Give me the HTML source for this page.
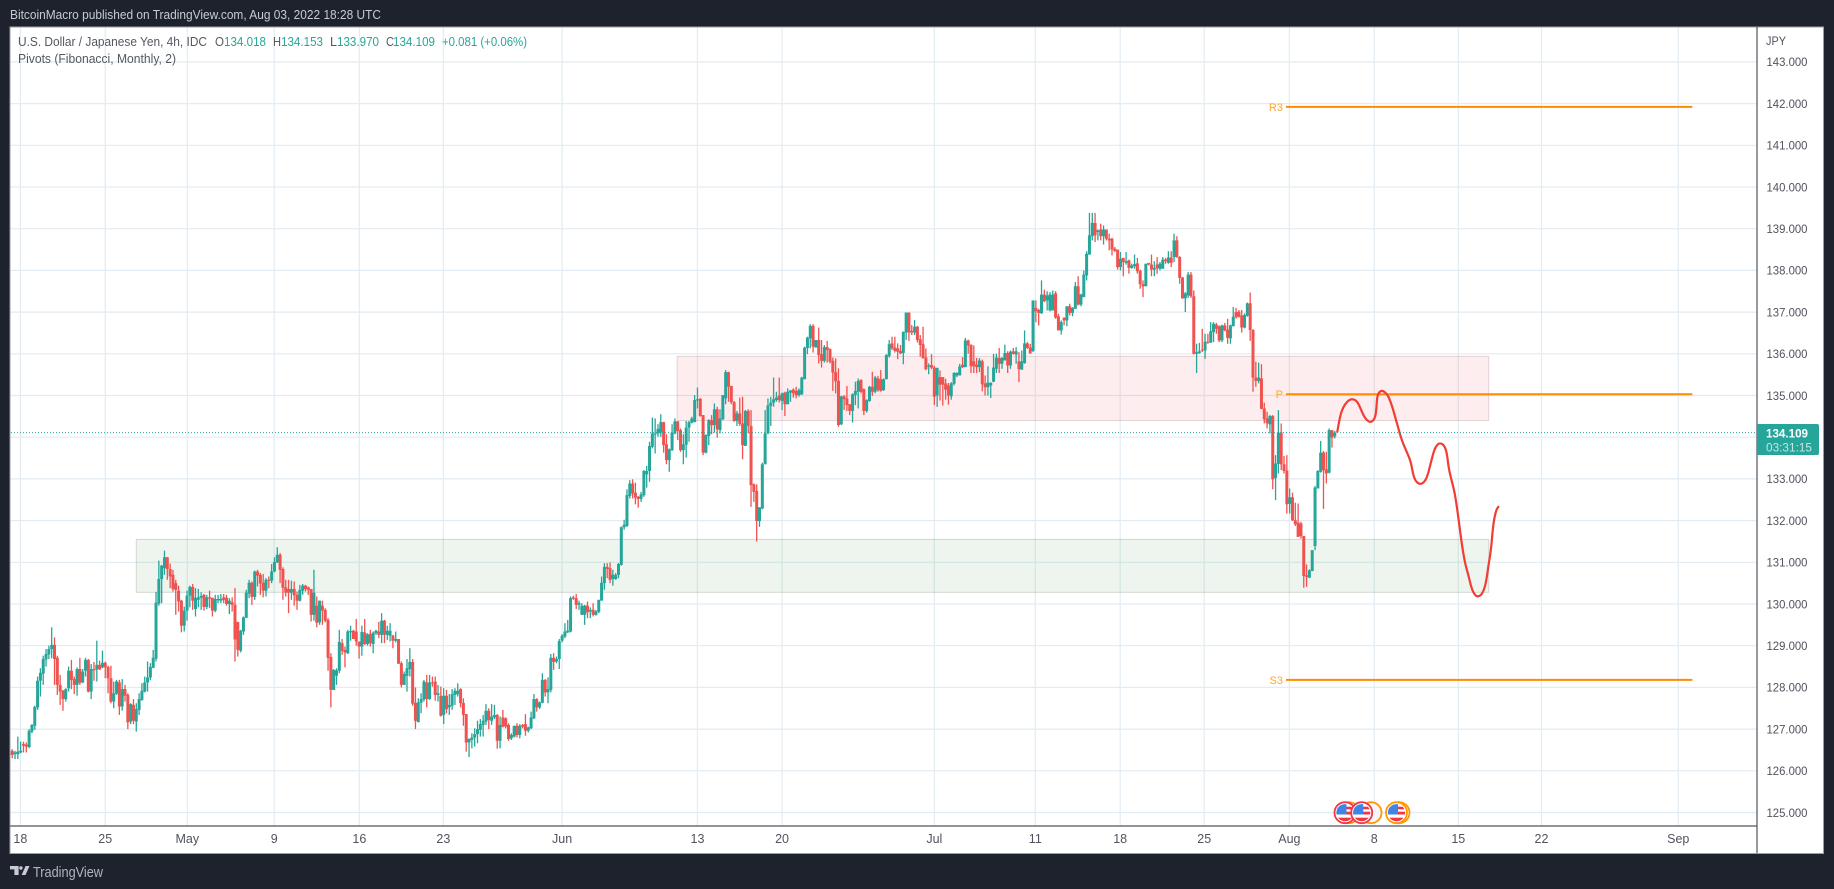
<!DOCTYPE html>
<html>
<head>
<meta charset="utf-8">
<title>USD/JPY chart</title>
<style>
html,body{margin:0;padding:0;background:#1e222d;width:1834px;height:889px;overflow:hidden}
svg{display:block;font-family:"Liberation Sans",sans-serif}
</style>
</head>
<body>
<svg id="chart" width="1834" height="889" viewBox="0 0 1834 889" xmlns="http://www.w3.org/2000/svg">
  <rect x="0" y="0" width="1834" height="889" fill="#1e222d"/>
  <text x="10" y="19" font-size="13" fill="#c8cbd3" textLength="371" lengthAdjust="spacingAndGlyphs">BitcoinMacro published on TradingView.com, Aug 03, 2022 18:28 UTC</text>
  <rect x="10" y="27" width="1813.5" height="826.5" fill="#ffffff" stroke="#9a9da6" stroke-width="1"/>
  <g id="grid"></g>
  <g id="zones"></g>
  <g id="candles"></g>
  <g id="pivots"></g>
  <g id="overlay"></g>
  <line x1="1757" y1="27" x2="1757" y2="853" stroke="#50535e" stroke-width="1.2"/>
  <line x1="10" y1="826" x2="1757" y2="826" stroke="#50535e" stroke-width="1.2"/>
  <g id="price-axis"></g>
  <g id="time-axis"></g>
  <text x="1766" y="45" font-size="12" fill="#50535e" textLength="20" lengthAdjust="spacingAndGlyphs">JPY</text>

  <g font-size="13">
    <text x="18" y="46" fill="#555862" textLength="189" lengthAdjust="spacingAndGlyphs">U.S. Dollar / Japanese Yen, 4h, IDC</text>
    <text x="215" y="46" fill="#555862" textLength="9" lengthAdjust="spacingAndGlyphs">O</text>
    <text x="224" y="46" fill="#26a69a" textLength="42" lengthAdjust="spacingAndGlyphs">134.018</text>
    <text x="273" y="46" fill="#555862" textLength="8" lengthAdjust="spacingAndGlyphs">H</text>
    <text x="281" y="46" fill="#26a69a" textLength="42" lengthAdjust="spacingAndGlyphs">134.153</text>
    <text x="330" y="46" fill="#555862" textLength="7" lengthAdjust="spacingAndGlyphs">L</text>
    <text x="337" y="46" fill="#26a69a" textLength="42" lengthAdjust="spacingAndGlyphs">133.970</text>
    <text x="386" y="46" fill="#555862" textLength="8" lengthAdjust="spacingAndGlyphs">C</text>
    <text x="393" y="46" fill="#26a69a" textLength="42" lengthAdjust="spacingAndGlyphs">134.109</text>
    <text x="442" y="46" fill="#26a69a" textLength="85" lengthAdjust="spacingAndGlyphs">+0.081 (+0.06%)</text>
    <text x="18" y="63" fill="#555862" textLength="158" lengthAdjust="spacingAndGlyphs">Pivots (Fibonacci, Monthly, 2)</text>
  </g>

  <g>
    <defs>
      <clipPath id="flag-clip"><circle cx="0" cy="0" r="8.6"/></clipPath>
    </defs>
    <g transform="translate(1349 812.7)"><circle r="10.5" fill="#fff" stroke="#ff9800" stroke-width="1.8"/></g>
    <g transform="translate(1345 812.7)">
      <circle r="10.5" fill="#fff" stroke="#f23645" stroke-width="1.8"/>
      <g clip-path="url(#flag-clip)"><rect x="-9" y="-6" width="18" height="2.6" fill="#f23645"/><rect x="-9" y="-1" width="18" height="2.8" fill="#f23645"/><rect x="-9" y="5" width="18" height="4" fill="#f23645"/><rect x="-9" y="-9" width="10.5" height="10.8" fill="#3d85e6"/></g>
    </g>
    <g transform="translate(1371 812.7)"><circle r="10.5" fill="#f5f6fa" stroke="#ff9800" stroke-width="1.8"/></g>
    <g transform="translate(1361.7 812.7)">
      <circle r="10.5" fill="#fff" stroke="#f23645" stroke-width="1.8"/>
      <g clip-path="url(#flag-clip)"><rect x="-9" y="-6" width="18" height="2.6" fill="#f23645"/><rect x="-9" y="-1" width="18" height="2.8" fill="#f23645"/><rect x="-9" y="5" width="18" height="4" fill="#f23645"/><rect x="-9" y="-9" width="10.5" height="10.8" fill="#3d85e6"/></g>
    </g>
    <g transform="translate(1399 812.7)"><circle r="10.5" fill="#fff" stroke="#ff9800" stroke-width="1.8"/></g>
    <g transform="translate(1396.5 812.7)">
      <circle r="10.5" fill="#fff" stroke="#ff9800" stroke-width="1.8"/>
      <g clip-path="url(#flag-clip)"><rect x="-9" y="-6" width="18" height="2.6" fill="#f23645"/><rect x="-9" y="-1" width="18" height="2.8" fill="#f23645"/><rect x="-9" y="5" width="18" height="4" fill="#f23645"/><rect x="-9" y="-9" width="10.5" height="10.8" fill="#3d85e6"/></g>
    </g>
  </g>

  <g fill="#c8cbd3">
    <path d="M10 866h8.6v9h-4.2v-5.6H10zM22.6 868a1.7 1.7 0 1 1-3.4 0 1.7 1.7 0 0 1 3.4 0zM25.6 866h3.9l-4 9h-3.9z"/>
    <text x="33" y="877" font-size="14.5" fill="#b2b5be" textLength="70" lengthAdjust="spacingAndGlyphs">TradingView</text>
  </g>
</svg>
<script>
const opens=[
126.48,126.40,126.40,126.44,126.64,126.63,126.57,126.94,127.08,127.52,
128.16,128.33,128.67,128.79,128.92,129.02,128.71,128.06,127.92,127.72,
127.98,128.40,128.20,128.06,128.44,128.12,128.40,128.66,127.90,128.44,
128.43,128.54,128.48,128.59,128.49,128.22,127.66,127.85,128.12,127.54,
127.96,127.82,127.18,127.58,127.18,127.46,127.70,127.90,128.12,128.24,
128.47,128.69,130.01,130.60,130.86,131.12,130.84,130.70,130.50,130.32,
130.08,129.48,129.84,130.20,130.41,129.88,130.10,130.15,130.22,129.93,
130.16,130.15,129.84,130.09,130.08,130.16,130.15,130.00,130.04,129.98,
129.57,128.88,129.34,129.67,130.25,130.51,130.17,130.78,130.70,130.51,
130.32,130.58,130.56,130.78,131.00,131.18,130.84,130.40,130.36,130.27,
130.36,130.22,130.08,130.32,130.44,130.40,130.36,129.74,129.96,129.56,
129.96,129.86,129.62,128.73,127.94,128.28,128.40,129.06,128.90,128.82,
129.32,129.36,129.34,129.10,128.98,129.32,129.04,129.28,129.04,129.30,
129.34,129.26,129.60,129.26,129.24,129.24,129.12,129.16,128.58,128.06,
128.28,128.44,128.61,127.63,127.17,127.63,127.71,128.12,127.72,128.12,
128.14,127.82,127.80,127.34,127.80,127.52,127.56,127.82,127.84,127.96,
127.63,127.36,126.68,126.74,126.80,126.88,126.98,127.10,127.18,127.44,
127.20,127.28,127.34,126.72,127.28,127.26,127.10,126.78,126.82,127.08,
126.86,127.10,127.12,126.96,127.02,127.26,127.72,127.52,127.63,128.18,
127.88,127.94,128.71,128.62,128.68,129.12,129.22,129.32,129.34,130.16,
130.14,129.98,129.74,129.74,129.96,129.82,129.86,129.74,129.81,130.08,
130.50,130.89,130.86,130.60,130.60,130.70,130.94,131.84,131.87,132.59,
132.89,132.67,132.57,132.52,132.61,133.11,133.19,133.77,134.07,134.09,
134.11,134.36,133.83,133.45,133.69,134.09,134.38,134.17,133.69,133.82,
134.23,134.35,134.36,134.88,134.92,134.53,133.63,134.03,134.41,134.29,
134.67,134.17,134.43,134.93,135.56,135.23,134.84,134.39,134.57,134.33,
133.79,134.63,134.27,132.87,132.71,131.99,132.29,133.35,134.09,134.75,
134.83,134.89,135.00,134.87,135.07,134.79,135.07,135.14,135.11,135.01,
135.03,135.39,136.14,136.37,136.67,136.15,136.33,135.99,135.83,136.16,
136.11,135.83,135.56,135.35,134.31,134.98,134.93,134.79,134.63,135.01,
135.09,135.37,135.15,134.63,134.87,135.21,135.09,135.41,135.39,135.13,
135.39,135.95,136.25,136.15,136.13,136.07,136.02,136.51,136.99,136.55,
136.51,136.65,136.35,136.23,135.91,135.69,135.73,135.67,135.00,135.44,
135.44,135.29,135.24,134.98,135.28,135.48,135.48,135.74,135.68,136.32,
136.22,135.82,135.74,135.68,135.82,135.29,135.20,135.24,135.33,135.64,
135.90,135.76,135.84,136.02,135.72,136.06,135.98,135.82,135.62,135.78,
136.25,136.15,136.07,137.10,137.05,136.97,137.42,137.28,137.04,137.04,
137.45,136.90,136.56,136.86,136.80,137.14,136.98,137.08,137.62,137.18,
137.36,137.88,138.38,138.82,139.14,138.92,138.98,138.82,138.98,138.76,
138.76,138.52,138.50,138.08,138.30,138.18,138.24,138.06,138.10,138.17,
137.99,137.67,137.62,138.18,138.14,138.02,138.14,138.04,138.04,138.26,
138.18,138.31,138.32,138.72,138.32,137.83,137.33,137.40,137.90,137.38,
136.00,136.02,136.10,136.08,136.29,136.27,136.52,136.70,136.66,136.32,
136.68,136.58,136.37,136.66,137.00,137.01,136.92,136.63,136.91,137.21,
136.57,135.43,135.35,135.41,134.69,134.45,134.31,134.51,133.02,133.36,
134.11,133.35,133.20,132.40,132.56,132.01,131.95,131.93,131.63,130.69,
130.63,130.79,131.39,132.77,133.17,133.63,133.23,133.15,134.17,134.02
];
const highs=[
126.52,126.48,126.82,126.70,126.70,126.68,127.00,127.12,127.56,128.26,
128.46,128.76,128.92,129.00,129.44,129.20,128.76,128.30,127.94,127.98,
128.50,128.66,128.26,128.48,128.71,128.44,128.71,128.68,128.56,128.61,
129.12,128.64,128.88,128.62,128.52,128.52,128.14,128.18,128.18,128.20,
128.06,127.86,127.62,127.72,127.62,127.86,128.10,128.26,128.62,128.58,
128.90,130.29,131.04,130.94,131.28,131.13,130.97,130.82,130.58,130.44,
130.10,129.94,130.32,130.44,130.48,130.38,130.36,130.28,130.24,130.22,
130.32,130.15,130.22,130.22,130.24,130.24,130.22,130.14,130.16,130.38,
129.57,129.38,129.70,130.34,130.58,130.54,130.80,130.82,130.74,130.72,
130.62,130.66,130.96,131.12,131.36,131.22,130.88,130.58,130.58,130.56,
130.54,130.30,130.46,130.48,130.46,130.42,130.36,130.82,130.18,130.08,
130.08,129.90,129.66,128.82,128.44,128.46,129.38,129.16,128.98,129.38,
129.48,129.38,129.64,129.10,129.48,129.64,129.30,129.38,129.34,129.38,
129.57,129.78,129.62,129.48,129.54,129.26,129.34,129.16,128.62,128.38,
128.68,128.94,128.68,128.00,127.74,127.86,128.18,128.30,128.30,128.26,
128.26,128.06,128.02,127.98,127.94,127.84,127.96,127.98,128.10,127.98,
127.74,127.36,126.78,126.90,127.02,127.20,127.24,127.34,127.60,127.50,
127.60,127.58,127.36,127.30,127.46,127.28,127.14,126.90,127.08,127.14,
127.12,127.12,127.36,127.06,127.42,127.84,127.74,127.66,128.34,128.20,
128.24,128.80,128.82,128.74,129.16,129.28,129.54,129.62,130.18,130.20,
130.24,130.08,130.02,129.98,130.06,129.92,130.02,129.86,130.10,130.66,
130.98,130.98,131.00,130.82,130.74,130.98,131.86,132.02,132.75,132.97,
132.99,132.91,132.59,132.69,133.21,133.31,133.89,134.47,134.45,134.31,
134.55,134.37,134.07,133.73,134.31,134.45,134.39,134.21,134.07,134.39,
134.39,134.49,135.01,135.19,134.94,134.53,134.07,134.43,134.53,134.81,
134.73,134.67,135.01,135.61,135.57,135.23,134.87,134.63,134.95,134.97,
134.65,134.67,134.65,132.89,132.87,132.32,133.39,134.65,134.93,134.97,
135.43,135.09,135.43,135.07,135.09,135.17,135.13,135.17,135.21,135.17,
135.45,136.17,136.41,136.71,136.71,136.33,136.63,136.33,136.21,136.31,
136.13,135.91,135.89,135.65,134.99,135.01,135.23,134.79,135.05,135.33,
135.41,135.39,135.17,134.91,135.23,135.57,135.47,135.47,135.61,135.41,
135.99,136.33,136.41,136.41,136.25,136.21,136.53,136.99,136.99,136.69,
136.81,136.67,136.45,136.65,136.13,135.77,135.99,135.71,135.67,135.60,
135.44,135.40,135.30,135.32,135.56,135.56,135.76,135.92,136.38,136.34,
136.22,136.20,135.90,135.90,135.86,135.48,135.70,135.32,136.00,136.00,
136.14,135.92,136.22,136.06,136.08,136.14,136.16,136.04,136.08,136.56,
136.28,136.24,137.28,137.28,137.08,137.76,137.54,137.50,137.48,137.52,
137.50,136.96,136.80,136.88,137.14,137.20,137.12,137.72,137.86,137.44,
138.00,138.46,139.38,139.38,139.38,138.98,139.12,139.08,138.98,138.88,
138.78,138.56,138.50,138.44,138.30,138.44,138.26,138.16,138.38,138.30,
138.02,137.76,138.16,138.18,138.38,138.22,138.32,138.20,138.32,138.30,
138.46,138.46,138.88,138.82,138.34,137.84,137.48,137.96,137.96,137.52,
136.24,136.26,136.60,136.48,136.48,136.76,136.76,136.74,136.68,136.70,
136.74,136.84,136.70,137.12,137.10,137.05,137.05,136.97,137.23,137.47,
136.59,135.81,135.79,135.75,134.83,134.61,134.53,134.53,133.57,134.65,
134.33,133.55,133.57,132.77,132.67,132.43,132.41,131.97,131.63,130.95,
130.83,131.29,132.83,133.21,133.91,133.67,133.65,134.21,134.17,134.15
];
const lows=[
126.30,126.28,126.28,126.42,126.44,126.44,126.54,126.90,126.98,127.46,
127.78,128.06,128.50,128.68,128.70,128.06,127.82,127.58,127.44,127.66,
127.90,127.96,127.84,127.80,128.06,128.10,128.26,127.88,127.72,128.16,
128.14,128.42,128.46,128.22,127.86,127.62,127.50,127.82,127.34,127.44,
127.66,127.00,127.12,127.12,126.94,127.34,127.68,127.88,127.90,128.17,
128.46,128.62,129.96,130.02,130.70,130.58,130.38,130.30,129.74,129.82,
129.32,129.34,129.60,129.92,129.86,129.70,129.92,129.86,129.84,129.88,
129.90,129.70,129.80,130.02,130.02,130.02,129.96,129.76,129.82,128.62,
128.74,128.84,129.26,129.66,130.14,129.98,130.10,130.42,130.22,130.16,
130.18,130.38,130.50,130.76,130.98,130.50,130.10,130.18,129.78,130.10,
129.96,129.86,130.06,130.22,130.30,130.22,129.58,129.60,129.44,129.50,
129.50,129.56,128.40,127.52,127.94,128.06,128.34,128.78,128.48,128.80,
129.12,129.16,129.00,128.69,128.76,129.02,129.00,128.98,128.82,129.26,
129.18,129.06,129.06,129.14,129.10,128.94,129.08,128.56,128.00,128.06,
127.90,128.26,127.56,127.00,127.16,127.38,127.66,127.52,127.70,128.02,
127.68,127.66,127.30,127.12,127.38,127.34,127.46,127.58,127.78,127.52,
127.08,126.46,126.33,126.54,126.58,126.66,126.82,126.82,127.10,127.00,
127.10,127.24,126.53,126.54,127.04,127.02,126.72,126.74,126.80,126.80,
126.78,127.02,126.84,126.92,127.00,127.24,127.42,127.48,127.62,127.78,
127.62,127.88,128.42,128.58,128.44,129.08,129.18,129.30,129.32,130.10,
129.88,129.86,129.74,129.50,129.66,129.66,129.70,129.72,129.78,130.08,
130.34,130.62,130.50,130.44,130.58,130.62,130.92,131.78,131.85,132.53,
132.53,132.39,132.31,132.45,132.57,132.79,132.93,133.73,133.61,134.01,
134.01,133.63,133.35,133.17,133.67,134.07,133.93,133.65,133.35,133.51,
133.89,134.33,134.36,134.69,134.49,133.57,133.61,133.81,134.07,134.11,
133.99,134.09,134.41,134.79,134.85,134.79,134.37,134.27,134.27,133.47,
133.79,134.09,132.33,132.45,131.50,131.85,132.27,133.35,134.07,134.27,
134.73,134.85,134.83,134.65,134.51,134.79,134.85,134.95,134.93,134.97,
135.01,135.39,135.99,136.13,136.03,136.15,135.77,135.67,135.79,135.79,
135.77,135.11,135.05,134.25,134.29,134.65,134.63,134.53,134.35,134.77,
134.69,135.05,134.53,134.59,134.85,134.99,135.05,135.09,135.09,135.11,
135.39,135.91,136.09,136.03,135.87,135.99,135.75,136.33,136.31,136.45,
136.45,136.27,135.93,135.89,135.61,135.51,135.63,134.77,134.73,134.88,
134.76,134.90,134.78,134.90,135.24,135.44,135.48,135.66,135.68,136.00,
135.54,135.54,135.54,135.56,135.10,135.00,135.00,134.94,135.32,135.54,
135.54,135.64,135.84,135.54,135.64,135.98,135.76,135.32,135.62,135.76,
136.12,136.00,136.04,136.76,136.68,136.96,137.24,137.04,137.02,137.04,
136.84,136.56,136.46,136.68,136.66,136.92,136.90,137.08,137.16,137.14,
137.36,137.76,138.38,138.72,138.68,138.72,138.72,138.62,138.72,138.48,
138.36,138.44,138.02,138.00,137.86,138.14,137.92,138.04,138.04,137.92,
137.56,137.36,137.62,138.12,137.86,137.86,137.92,138.00,138.04,138.16,
138.16,138.08,138.20,138.30,137.68,137.32,137.00,137.34,137.34,135.98,
135.54,136.00,136.04,135.88,136.24,136.26,136.28,136.48,136.28,136.28,
136.54,136.24,136.24,136.66,136.84,136.87,136.51,136.61,136.89,136.31,
135.09,135.21,135.29,134.67,134.33,134.21,134.09,132.75,132.49,133.13,
133.21,133.13,132.17,132.17,131.99,131.87,131.61,131.57,130.39,130.41,
130.63,130.79,131.29,132.77,133.15,132.28,132.89,133.13,133.75,133.97
];
const closes=[
126.38,126.44,126.46,126.48,126.60,126.58,126.96,127.10,127.53,128.16,
128.35,128.68,128.80,128.92,129.02,128.68,128.06,127.90,127.72,127.96,
128.40,128.18,128.06,128.44,128.11,128.38,128.66,127.90,128.44,128.41,
128.54,128.43,128.59,128.48,128.22,127.66,127.86,128.14,127.54,127.96,
127.80,127.16,127.60,127.20,127.48,127.72,127.92,128.12,128.24,128.49,
128.71,130.03,130.60,130.92,131.12,130.84,130.66,130.36,130.34,130.06,
129.48,129.84,130.20,130.41,130.08,130.15,130.16,130.19,129.93,130.16,
130.13,129.84,130.12,130.12,130.12,130.10,130.00,130.08,129.98,129.15,
128.90,129.36,129.68,130.27,130.51,130.17,130.78,130.68,130.49,130.32,
130.58,130.56,130.78,131.01,131.18,130.82,130.39,130.27,130.27,130.36,
130.21,130.08,130.34,130.44,130.36,130.34,129.74,130.27,129.55,130.08,
129.84,129.60,128.71,127.94,128.42,128.41,129.09,128.88,128.84,129.34,
129.35,129.16,129.10,128.98,129.33,129.04,129.27,129.06,129.31,129.36,
129.26,129.60,129.26,129.36,129.36,129.12,129.16,128.57,128.06,128.32,
128.46,128.61,127.61,127.20,127.64,127.72,128.14,127.72,128.12,128.10,
127.82,127.86,127.32,127.80,127.48,127.58,127.84,127.92,127.92,127.62,
127.34,126.68,126.76,126.80,126.88,127.00,127.12,127.20,127.44,127.22,
127.30,127.34,126.72,127.10,127.06,127.06,126.76,126.86,127.08,126.86,
127.08,127.06,126.96,127.04,127.28,127.72,127.52,127.64,128.18,127.88,
127.96,128.71,128.61,128.68,129.11,129.24,129.34,129.36,130.14,130.13,
129.98,130.02,129.96,129.96,129.80,129.86,129.74,129.82,130.10,130.51,
130.89,130.84,130.58,130.70,130.70,130.96,131.84,131.90,132.61,132.89,
132.65,132.55,132.52,132.63,133.19,133.19,133.79,134.09,134.09,134.20,
134.36,133.81,133.45,133.71,134.11,134.38,134.15,133.69,133.83,134.23,
134.36,134.45,134.89,134.91,134.51,133.63,134.05,134.41,134.29,134.67,
134.19,134.45,135.01,135.56,135.21,134.84,134.39,134.57,134.32,133.81,
134.63,134.27,132.85,132.69,131.99,132.32,133.35,134.09,134.76,134.83,
134.91,134.95,134.89,135.05,134.79,135.09,135.12,135.05,135.01,135.13,
135.43,136.15,136.39,136.67,136.17,136.33,135.97,135.83,136.16,136.09,
135.81,135.55,135.34,134.29,134.98,134.91,134.77,134.63,135.03,135.11,
135.35,135.09,134.63,134.89,135.21,135.09,135.43,135.13,135.11,135.39,
135.97,136.23,136.13,136.07,136.05,136.01,136.53,136.99,136.51,136.51,
136.65,136.33,136.21,135.89,135.63,135.72,135.67,134.97,135.66,135.26,
135.26,135.14,135.00,135.29,135.54,135.54,135.70,135.68,136.32,136.20,
135.70,135.70,135.68,135.84,135.27,135.20,135.31,135.30,135.67,135.91,
135.76,135.90,136.02,135.72,136.05,136.00,136.06,135.63,135.82,136.25,
136.14,136.01,137.28,137.02,136.98,137.42,137.26,137.40,137.42,137.42,
136.87,136.56,136.76,136.80,137.14,136.98,137.10,137.62,137.18,137.42,
137.90,138.40,138.84,139.14,138.84,138.96,138.82,138.98,138.76,138.72,
138.50,138.47,138.08,138.28,138.20,138.22,138.06,138.12,138.15,137.98,
137.67,137.62,138.16,138.14,138.02,138.06,138.05,138.16,138.26,138.22,
138.31,138.18,138.72,138.32,137.82,137.33,137.45,137.90,137.38,136.00,
136.04,136.06,136.08,136.29,136.27,136.54,136.72,136.60,136.32,136.68,
136.56,136.38,136.68,136.89,136.88,136.89,136.63,136.93,137.21,136.57,
135.43,135.35,135.43,134.68,134.43,134.33,134.51,132.99,133.37,134.11,
133.35,133.19,132.39,132.56,132.01,131.91,131.61,131.63,130.67,130.65,
130.81,131.29,132.79,133.19,133.63,133.21,133.13,134.17,133.99,134.11
];

const priceTicks=[125,126,127,128,129,130,131,132,133,134,135,136,137,138,139,140,141,142,143];
const timeLabels=["18","25","May","9","16","23","Jun","13","20","Jul","11","18","25","Aug","8","15","22","Sep"];
const timeBars=[2.9,33,62.1,92.9,123.1,152.9,195,243,273,327,362.8,392.9,422.7,452.9,483,512.8,542.3,590.8];

const pivotNames=["R3","P","S3"];
const pivotPrices=[141.92,135.03,128.18];
const pivotStartBar=451.7;
const pivotEndBar=595.8;

const resistanceZone=[135.94,134.40];
const supportZone=[131.55,130.28];
const resistanceZoneBars=[235.8,523.6];
const supportZoneBars=[44,523.6];

const forecastBars=[469.9,470.6,471.4,472.6,474.0,475.3,476.8,477.9,479.1,480.3,481.7,483.1,483.7,484.0,484.7,485.7,486.9,488.1,489.4,490.9,492.7,494.5,496.0,496.8,497.8,499.2,500.6,501.8,503.0,504.2,505.4,506.5,507.7,508.7,509.4,510.4,511.6,512.8,514.0,515.2,516.4,517.5,518.7,519.9,521.4,522.6,523.4,524.4,525.2,526.2,527.0];
const forecastPrices=[134.13,134.41,134.63,134.79,134.89,134.92,134.87,134.73,134.53,134.41,134.35,134.43,134.61,134.97,135.08,135.12,135.08,134.97,134.73,134.37,133.93,133.65,133.41,133.09,132.93,132.87,132.91,133.05,133.37,133.69,133.83,133.86,133.81,133.65,133.25,132.97,132.65,132.09,131.45,130.97,130.69,130.37,130.21,130.17,130.25,130.49,130.89,131.29,131.93,132.25,132.33];

const lastPrice=134.109;
const lastPriceLabel="134.109";
const countdownLabel="03:31:15";

const NS="http://www.w3.org/2000/svg";
const GREEN="#26a69a";
const RED="#ef5350";
function xScale(bar){return 12.2+2.82*bar;}
function yScale(price){return 562.3-(price-131)*41.7;}
function make(tag,attrs,parent){
  const el=document.createElementNS(NS,tag);
  for(const k in attrs){el.setAttribute(k,attrs[k]);}
  parent.appendChild(el);
  return el;
}
const gridG=document.getElementById("grid");
const zonesG=document.getElementById("zones");
const candlesG=document.getElementById("candles");
const pivotsG=document.getElementById("pivots");
const overlayG=document.getElementById("overlay");
const priceAxisG=document.getElementById("price-axis");
const timeAxisG=document.getElementById("time-axis");

priceTicks.forEach(function(p){
  const y=yScale(p);
  const line=make("line",{x1:10.5,x2:1757,y1:y,y2:y,stroke:"#e2ecf2","stroke-width":1.2},gridG);
  
  
  const label=make("text",{x:1766.5,y:y+4.3,"font-size":12,fill:"#50535e",textLength:41,lengthAdjust:"spacingAndGlyphs"},priceAxisG);
  label.textContent=p.toFixed(3);
  
  
});
timeBars.forEach(function(b,i){
  const x=xScale(b);
  const line=make("line",{x1:x,x2:x,y1:27.5,y2:826,stroke:"#e2ecf2","stroke-width":1.2},gridG);
  
  
  const label=make("text",{x:x,y:843,"font-size":12.5,fill:"#50535e","text-anchor":"middle"},timeAxisG);
  label.textContent=timeLabels[i];
  
  
});

function drawZone(prices,bars,fill,border,name){
  const r=make("rect",{x:xScale(bars[0]),y:yScale(prices[0]),width:xScale(bars[1])-xScale(bars[0]),height:yScale(prices[1])-yScale(prices[0]),fill:fill,stroke:border,"stroke-width":1},zonesG);
  
  
}
drawZone(resistanceZone,resistanceZoneBars,"rgba(242,54,69,0.09)","rgba(120,70,80,0.2)","resistance-zone");
drawZone(supportZone,supportZoneBars,"rgba(76,160,90,0.1)","rgba(90,110,90,0.24)","support-zone");

opens.forEach(function(o,i){
  const c=closes[i];
  const color=c>=o?GREEN:RED;
  const x=xScale(i);
  const wick=make("rect",{x:x-0.65,width:1.3,y:yScale(highs[i]),height:Math.max(0.5,yScale(lows[i])-yScale(highs[i])),fill:color},candlesG);
  
  
  const top=yScale(Math.max(o,c));
  const bottom=yScale(Math.min(o,c));
  const body=make("rect",{x:x-1.5,width:3,y:top,height:Math.max(1,bottom-top),fill:color},candlesG);
  
  
});

pivotNames.forEach(function(n,i){
  const y=yScale(pivotPrices[i]);
  const line=make("line",{x1:xScale(pivotStartBar),x2:xScale(pivotEndBar),y1:y,y2:y,stroke:"#ff8c00","stroke-width":2},pivotsG);
  
  
  const label=make("text",{x:xScale(pivotStartBar)-3,y:y+4,"font-size":11,fill:"#ffa726","text-anchor":"end"},pivotsG);
  label.textContent=n;
  
  
});

function smoothPath(xs,ys){
  let d="M"+xs[0]+" "+ys[0];
  for(let i=1;i<xs.length-1;i++){
    const mx=(xs[i]+xs[i+1])/2;
    const my=(ys[i]+ys[i+1])/2;
    d+=" Q"+xs[i]+" "+ys[i]+" "+mx+" "+my;
  }
  d+=" L"+xs[xs.length-1]+" "+ys[ys.length-1];
  return d;
}
const forecast=make("path",{d:smoothPath(forecastBars.map(xScale),forecastPrices.map(yScale)),fill:"none",stroke:"#f23c34","stroke-width":2.2,"stroke-linejoin":"round","stroke-linecap":"round"},overlayG);



const lastY=yScale(lastPrice);
const lastLine=make("line",{x1:11,x2:1757,y1:lastY,y2:lastY,stroke:GREEN,"stroke-width":1,"stroke-dasharray":"1 2"},overlayG);



const tag=make("rect",{x:1757,y:lastY-8.6,width:62,height:31,rx:2,fill:GREEN},priceAxisG);


const tagPrice=make("text",{x:1766,y:lastY+4.6,"font-size":12,fill:"#ffffff","font-weight":"bold",textLength:42,lengthAdjust:"spacingAndGlyphs"},priceAxisG);
tagPrice.textContent=lastPriceLabel;


const tagCount=make("text",{x:1766,y:lastY+18.6,"font-size":12,fill:"rgba(255,255,255,0.72)",textLength:46,lengthAdjust:"spacingAndGlyphs"},priceAxisG);
tagCount.textContent=countdownLabel;


</script>
</body>
</html>
